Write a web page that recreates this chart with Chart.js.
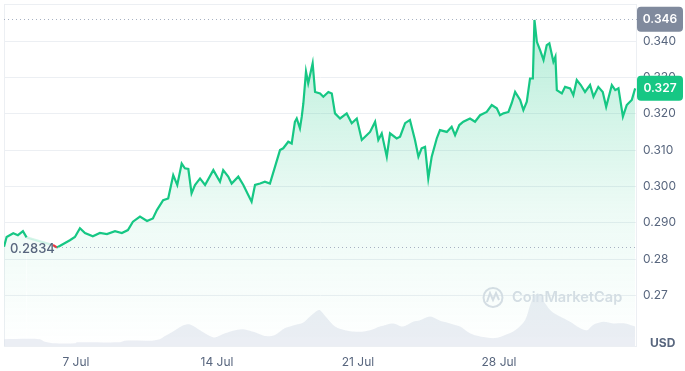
<!DOCTYPE html>
<html>
<head>
<meta charset="utf-8">
<script src="https://cdn.jsdelivr.net/npm/chart.js@4/dist/chart.umd.min.js"></script>
<style>
  html, body { margin: 0; padding: 0; background: #fff; }
  #wrap { width: 685px; height: 371px; }
</style>
</head>
<body>
<div id="wrap"><canvas id="c" width="685" height="371"></canvas></div>
<script>
// price series: x = day of July (fractional), y = USD
const priceDays = [3.43, 3.56, 3.89, 4.12, 4.37, 4.55, 5.86, 6.06, 6.35, 6.70, 6.95, 7.20, 7.45, 7.84, 8.19, 8.54, 8.94, 9.28, 9.58, 9.83,
  10.18, 10.53, 10.82, 11.02, 11.33, 11.58, 11.83, 12.03, 12.25, 12.41, 12.58, 12.74, 12.91, 13.16, 13.41, 13.82, 14.15, 14.31, 14.56, 14.73,
  15.06, 15.31, 15.56, 15.72, 15.89, 16.14, 16.38, 16.63, 16.88, 17.13, 17.29, 17.54, 17.71, 17.87, 17.96, 18.12, 18.21, 18.29, 18.42, 18.53,
  18.75, 18.87, 19.12, 19.28, 19.53, 19.70, 19.86, 20.11, 20.44, 20.69, 20.94, 21.19, 21.43, 21.60, 21.85, 22.01, 22.18, 22.43, 22.59, 22.92,
  23.09, 23.34, 23.58, 23.83, 24.00, 24.16, 24.33, 24.49, 24.66, 24.91, 25.07, 25.41, 25.65, 25.82, 26.03, 26.23, 26.56, 26.81, 27.06, 27.39,
  27.64, 27.89, 28.05, 28.22, 28.47, 28.63, 28.80, 29.05, 29.21, 29.38, 29.54, 29.68, 29.76, 29.88, 30.04, 30.21, 30.37, 30.50, 30.70, 30.80,
  30.87, 31.12, 31.28, 31.53, 31.69, 31.86, 32.06, 32.27, 32.52, 32.69, 32.93, 33.15, 33.32, 33.60, 33.77, 33.93, 34.15, 34.34, 34.59, 34.76];
const priceValues = [0.2834, 0.2861, 0.2871, 0.2866, 0.2877, 0.2860, 0.2839, 0.2832, 0.2841, 0.2852, 0.2861, 0.2885, 0.2872, 0.2863, 0.2872, 0.2869, 0.2877, 0.2872, 0.2880, 0.2903,
  0.2917, 0.2905, 0.2912, 0.2935, 0.2962, 0.2967, 0.3031, 0.3004, 0.3063, 0.3050, 0.3048, 0.2981, 0.3004, 0.3022, 0.3004, 0.3045, 0.3013, 0.3045, 0.3027, 0.3008,
  0.3027, 0.3004, 0.2976, 0.2958, 0.3004, 0.3008, 0.3013, 0.3008, 0.3054, 0.3100, 0.3105, 0.3123, 0.3118, 0.3178, 0.3187, 0.3160, 0.3192, 0.3229, 0.3316, 0.3284,
  0.3339, 0.3260, 0.3256, 0.3247, 0.3260, 0.3256, 0.3201, 0.3187, 0.3201, 0.3174, 0.3187, 0.3128, 0.3141, 0.3150, 0.3178, 0.3128, 0.3146, 0.3082, 0.3146, 0.3132,
  0.3137, 0.3174, 0.3183, 0.3128, 0.3082, 0.3105, 0.3109, 0.3022, 0.3082, 0.3132, 0.3155, 0.3150, 0.3164, 0.3141, 0.3169, 0.3178, 0.3187, 0.3178, 0.3196, 0.3205,
  0.3224, 0.3215, 0.3196, 0.3201, 0.3205, 0.3229, 0.3260, 0.3238, 0.3210, 0.3233, 0.3297, 0.3297, 0.3458, 0.3398, 0.3375, 0.3348, 0.3389, 0.3394, 0.3343, 0.3357,
  0.3265, 0.3256, 0.3274, 0.3270, 0.3251, 0.3293, 0.3279, 0.3260, 0.3279, 0.3247, 0.3274, 0.3260, 0.3219, 0.3279, 0.3265, 0.3270, 0.3192, 0.3224, 0.3238, 0.3270];

// volume series (millions USD)
const volumeDays = [3.43, 5.21, 5.46, 5.96, 6.95, 7.05, 9.18, 9.43, 10.67, 11.17, 11.42, 11.92, 12.31, 12.66, 13.16, 13.65, 13.90, 14.40, 14.80, 15.29,
  15.89, 16.38, 16.88, 17.38, 17.87, 18.27, 18.62, 18.97, 19.12, 19.46, 19.86, 20.36, 21.10, 21.60, 22.09, 22.74, 23.24, 23.73, 24.08, 24.58,
  25.07, 25.57, 26.07, 26.56, 27.06, 27.80, 28.30, 28.80, 29.29, 29.64, 29.94, 30.29, 30.63, 31.03, 31.53, 32.02, 32.37, 32.67, 33.17, 33.66,
  34.26, 34.76];
const volumeValues = [13, 13, 8, 5, 5, 7, 7, 10, 10, 13, 19, 30, 39, 41, 30, 19, 16, 24, 29, 32,
  26, 19, 21, 34, 40, 44, 56, 67, 68, 53, 37, 30, 27, 30, 37, 43, 37, 46, 49, 56,
  48, 43, 37, 24, 18, 15, 21, 30, 49, 87, 100, 81, 65, 56, 46, 34, 30, 40, 46, 43,
  43, 37];

const dayTicks = [7, 14, 21, 28];
const priceTicks = [0.27, 0.28, 0.29, 0.30, 0.31, 0.32, 0.33, 0.34];
const priceTickLabels = ['0.27', '0.28', '0.290', '0.300', '0.310', '0.320', '0.330', '0.340'];
const openPrice = 0.2834;
const highPrice = 0.346;
const lastPrice = 0.327;

const GREEN = '#16c784';
const RED = '#ea3943';
const TEXT = '#58667e';
const FONT = 'Inter, "DejaVu Sans", sans-serif';

function roundRect(ctx, x, y, w, h, r) {
  ctx.beginPath();
  ctx.moveTo(x + r, y);
  ctx.lineTo(x + w - r, y);
  ctx.quadraticCurveTo(x + w, y, x + w, y + r);
  ctx.lineTo(x + w, y + h - r);
  ctx.quadraticCurveTo(x + w, y + h, x + w - r, y + h);
  ctx.lineTo(x + r, y + h);
  ctx.quadraticCurveTo(x, y + h, x, y + h - r);
  ctx.lineTo(x, y + r);
  ctx.quadraticCurveTo(x, y, x + r, y);
  ctx.closePath();
}

// frame, dotted reference lines, watermark, price tags
const decor = {
  id: 'decor',
  beforeDatasetsDraw(chart) {
    const { ctx, chartArea: a } = chart;
    ctx.save();
    ctx.strokeStyle = '#eceff3';
    ctx.lineWidth = 1;
    ctx.strokeRect(a.left + 0.5, a.top + 0.5, a.right - a.left - 1, a.bottom - a.top);
    // watermark
    ctx.strokeStyle = '#d9dee6';
    ctx.lineWidth = 2;
    ctx.beginPath();
    ctx.arc(493, 297.5, 9.5, 0, Math.PI * 2);
    ctx.stroke();
    ctx.beginPath();
    ctx.moveTo(487, 302);
    ctx.lineTo(490, 293);
    ctx.lineTo(493, 300);
    ctx.lineTo(496, 293);
    ctx.lineTo(499, 300);
    ctx.stroke();
    ctx.fillStyle = '#d9dee6';
    ctx.font = '600 14.6px ' + FONT;
    ctx.textBaseline = 'middle';
    ctx.textAlign = 'left';
    ctx.fillText('CoinMarketCap', 512, 298);
    ctx.restore();
  },
  afterDatasetsDraw(chart) {
    const { ctx, chartArea: a, scales } = chart;
    const y = scales.y;
    ctx.save();
    ctx.setLineDash([1, 3]);
    ctx.strokeStyle = '#a7b1c2';
    ctx.lineWidth = 1;
    for (const v of [openPrice, highPrice]) {
      const py = Math.round(y.getPixelForValue(v)) + 0.5;
      ctx.beginPath();
      ctx.moveTo(v === openPrice ? a.left + 50 : a.left, py);
      ctx.lineTo(a.right, py);
      ctx.stroke();
    }
    ctx.setLineDash([]);
    // open price label
    ctx.font = '500 13px ' + FONT;
    ctx.fillStyle = TEXT;
    ctx.textBaseline = 'middle';
    ctx.textAlign = 'left';
    ctx.fillText(openPrice.toFixed(4), 10, y.getPixelForValue(openPrice) + 2);
    // tags on the right axis
    const tags = [[highPrice, '#808a9d', '0.346'], [lastPrice, GREEN, '0.327']];
    for (const [v, col, txt] of tags) {
      const py = y.getPixelForValue(v);
      ctx.fillStyle = col;
      roundRect(ctx, a.right, py - 12.5, 46, 25, 4);
      ctx.fill();
      ctx.fillStyle = '#fff';
      ctx.font = '600 12px ' + FONT;
      ctx.textAlign = 'center';
      ctx.fillText(txt, a.right + 23, py + 0.5);
    }
    ctx.fillStyle = TEXT;
    ctx.font = '700 12px ' + FONT;
    ctx.textAlign = 'left';
    ctx.fillText('USD', 650, 343);
    ctx.restore();
  }
};

const ctx = document.getElementById('c').getContext('2d');
new Chart(ctx, {
  type: 'line',
  data: {
    datasets: [
      {
        data: priceDays.map((d, i) => ({ x: d, y: priceValues[i] })),
        yAxisID: 'y',
        borderColor: GREEN,
        borderWidth: 2.2,
        pointRadius: 0,
        tension: 0,
        fill: 'start',
        order: 1,
        segment: {
          borderColor: s => {
            if (s.p1.parsed.x - s.p0.parsed.x > 0.8) return 'rgba(22,199,132,0.18)';
            if (s.p1.parsed.y < openPrice) return RED;
            return GREEN;
          }
        },
        backgroundColor: (c) => {
          const area = c.chart.chartArea;
          if (!area) return 'rgba(22,199,132,0.1)';
          const g = c.chart.ctx.createLinearGradient(0, area.top, 0, area.bottom);
          g.addColorStop(0, 'rgba(22,199,132,0.32)');
          g.addColorStop(0.6, 'rgba(22,199,132,0.08)');
          g.addColorStop(1, 'rgba(22,199,132,0.0)');
          return g;
        }
      },
      {
        data: volumeDays.map((d, i) => ({ x: d, y: volumeValues[i] })),
        yAxisID: 'yVol',
        borderWidth: 0,
        pointRadius: 0,
        tension: 0.3,
        fill: 'origin',
        backgroundColor: 'rgba(222,227,236,0.6)',
        order: 2
      }
    ]
  },
  options: {
    responsive: false,
    animation: false,
    events: [],
    layout: { padding: { left: 4, top: 4, right: 0, bottom: 0 } },
    plugins: { legend: { display: false }, tooltip: { enabled: false } },
    scales: {
      x: {
        type: 'linear',
        min: 3.43,
        max: 34.85,
        afterBuildTicks: s => { s.ticks = dayTicks.map(v => ({ value: v })); },
        afterFit: s => { s.height = 25; s.paddingLeft = 0; s.paddingRight = 0; },
        grid: { display: false, drawTicks: false },
        border: { display: false },
        ticks: {
          padding: 9,
          color: TEXT,
          font: { family: FONT, size: 12 },
          maxRotation: 0,
          callback: v => v + ' Jul'
        }
      },
      y: {
        position: 'right',
        min: 0.2561,
        max: 0.3502,
        afterBuildTicks: s => { s.ticks = priceTicks.map(v => ({ value: v })); },
        afterFit: s => { s.width = 48; s.paddingTop = 0; s.paddingBottom = 0; },
        grid: { color: '#eceff3', drawTicks: false },
        border: { display: false },
        ticks: {
          padding: 6,
          color: TEXT,
          font: { family: FONT, size: 12 },
          callback: (v, i) => priceTickLabels[i]
        }
      },
      yVol: {
        display: false,
        min: 0,
        max: 650
      }
    }
  },
  plugins: [decor]
});
</script>
</body>
</html>
